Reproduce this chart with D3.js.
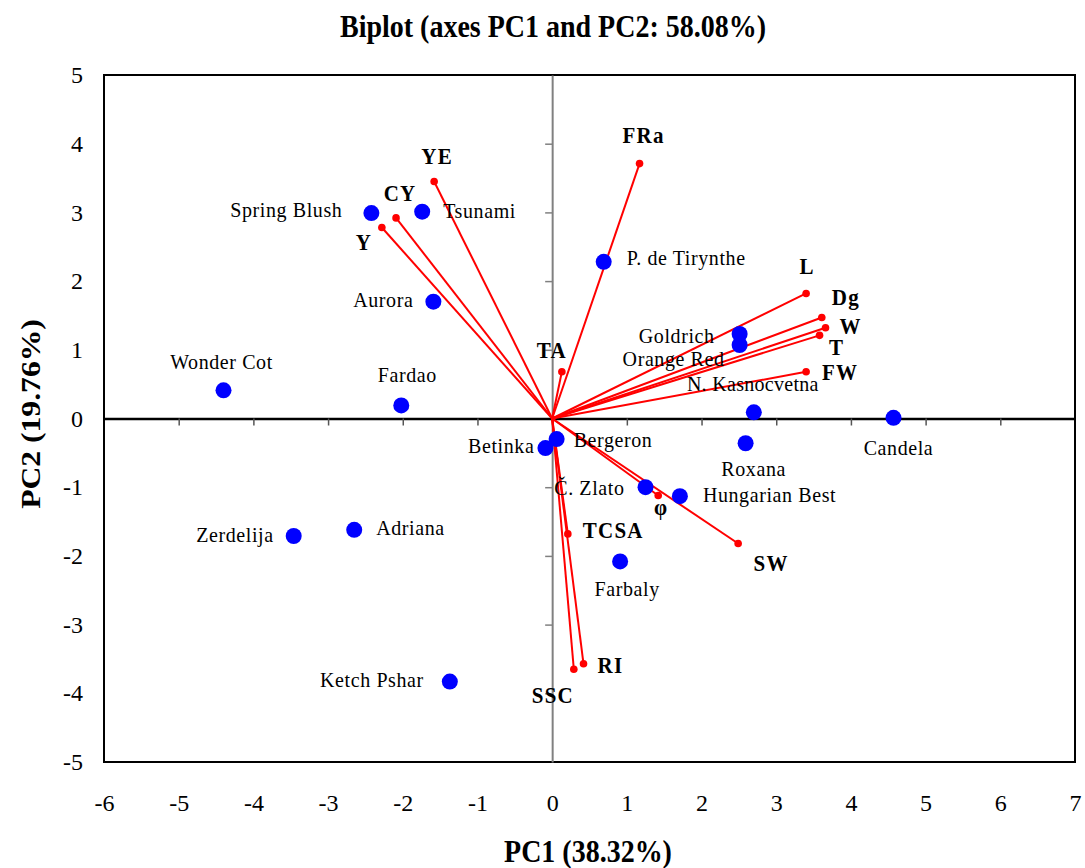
<!DOCTYPE html>
<html>
<head>
<meta charset="utf-8">
<script src="https://cdn.jsdelivr.net/npm/d3@7"></script>
<style>
  html, body { margin: 0; padding: 0; background: #fff; }
  svg { display: block; }
  svg text { font-family: 'Liberation Serif', 'Times New Roman', serif !important; fill: #000; }
</style>
</head>
<body>
<svg id="chart" width="1085" height="868"></svg>
<script>
// ---- Data ----
const obsNames = ["Wonder Cot","Fardao","Spring Blush","Tsunami","Aurora","P. de Tirynthe","Goldrich","Orange Red","N. Kasnocvetna","Candela","Roxana","Hungarian Best","Č. Zlato","Bergeron","Betinka","Farbaly","Adriana","Zerdelija","Ketch Pshar"];
const obsPC1 = [-4.40,-2.02,-2.42,-1.74,-1.59,0.69,2.51,2.51,2.70,4.57,2.59,1.71,1.25,0.06,-0.09,0.91,-2.65,-3.46,-1.37];
const obsPC2 = [0.41,0.19,2.99,3.01,1.70,2.28,1.23,1.07,0.09,0.01,-0.36,-1.13,-1.00,-0.30,-0.43,-2.08,-1.62,-1.71,-3.83];

const varNames = ["YE","CY","Y","TA","FRa","L","Dg","W","T","FW","φ","SW","TCSA","RI","SSC"];
const varPC1 = [-1.58,-2.09,-2.28,0.13,1.17,3.40,3.61,3.66,3.58,3.40,1.42,2.49,0.21,0.42,0.29];
const varPC2 = [3.45,2.92,2.78,0.68,3.71,1.82,1.47,1.32,1.21,0.68,-1.12,-1.82,-1.68,-3.57,-3.65];

const xTicks = [-6,-5,-4,-3,-2,-1,0,1,2,3,4,5,6,7];
const yTicks = [-5,-4,-3,-2,-1,0,1,2,3,4,5];

const titleText = "Biplot (axes PC1 and PC2: 58.08%)";
const xTitle = "PC1 (38.32%)";
const yTitle = "PC2 (19.76%)";

// ---- Label layout (offsets in px from the mark, anchor) ----
const obsLabelLayout = [
  [-2,-21,"middle"],[6,-23,"middle"],[-29,4,"end"],[21,6,"start"],[-20,5,"end"],
  [23,3,"start"],[-25,9,"end"],[-15,21,"end"],[-1,-21,"middle"],[5,37,"middle"],
  [8,33,"middle"],[23,6,"start"],[-21,8,"end"],[17,8,"start"],[-11,5,"end"],
  [7,35,"middle"],[22,5,"start"],[-20,6,"end"],[-26,5,"end"]
];
const varLabelLayout = [
  [3,-17,"middle"],[4,-17,"middle"],[-18,22,"middle"],[-10,-14,"middle"],[4,-21,"middle"],
  [1,-19,"middle"],[24,-13,"middle"],[25,6,"middle"],[17,20,"middle"],[34,8,"middle"],
  [3,20,"middle"],[33,27,"middle"],[15,4,"start"],[14,9,"start"],[-21,34,"middle"]
];

// ---- Chart ----
const svg = d3.select("#chart");
const L = 104, R = 1075, T = 75, B = 762;
const SY = 1.1; // vertical text stretch
const FONT = "'Liberation Serif', 'Times New Roman', serif";

const x = d3.scaleLinear().domain([-6, 7]).range([L, R]);
const y = d3.scaleLinear().domain([-5, 5]).range([B, T]);

function stretchedText(g, tx, ty, str, opts) {
  const t = g.append("text")
    .attr("transform", `translate(${tx},${ty}) scale(1,${opts.sy || SY})`)
    .attr("text-anchor", opts.anchor || "start")
    .attr("font-family", FONT)
    .style("font-size", opts.size + "px")
    .style("font-weight", opts.bold ? "bold" : "normal")
    .text(str);
  if (opts.ls) t.style("letter-spacing", opts.ls + "px");
  return t;
}

// Title
stretchedText(svg, 553, 37, titleText, {size: 28, bold: true, anchor: "middle", sy: 1.13});

// Frame
svg.append("rect").attr("x", L).attr("y", T).attr("width", R - L).attr("height", B - T)
  .attr("fill", "none").attr("stroke", "#000").attr("stroke-width", 2);

// Y zero axis (gray, ticks to the left)
const yAx = svg.append("g").attr("transform", `translate(${x(0)},0)`)
  .call(d3.axisLeft(y).tickValues(yTicks.filter(v => v > -5 && v < 5)).tickSize(7).tickFormat("").tickSizeOuter(0));
yAx.select(".domain").attr("stroke", "#808080").attr("stroke-width", 2);
yAx.selectAll(".tick line").attr("stroke", "#808080").attr("stroke-width", 1.5);

// X zero axis (black, ticks downward)
const xAx = svg.append("g").attr("transform", `translate(0,${y(0)})`)
  .call(d3.axisBottom(x).tickValues(xTicks.filter(v => v > -6 && v < 7)).tickSize(7).tickFormat("").tickSizeOuter(0));
xAx.select(".domain").attr("stroke", "#000").attr("stroke-width", 2.5);
xAx.selectAll(".tick line").attr("stroke", "#555").attr("stroke-width", 1.5);

// Tick labels along frame
const fmt = d => String(d);
const xLab = svg.append("g").attr("transform", `translate(0,${B})`)
  .call(d3.axisBottom(x).tickValues(xTicks).tickFormat(fmt).tickSize(0).tickPadding(32));
xLab.attr("font-family", FONT);
xLab.select(".domain").remove();
xLab.selectAll("text").attr("font-family", FONT).style("font-size", "24px").attr("fill", "#000");

const yLab = svg.append("g").attr("transform", `translate(${L},0)`)
  .call(d3.axisLeft(y).tickValues(yTicks).tickFormat(fmt).tickSize(0).tickPadding(21));
yLab.attr("font-family", FONT);
yLab.select(".domain").remove();
yLab.selectAll("text").attr("font-family", FONT).style("font-size", "24px").attr("fill", "#000");

// Axis titles
stretchedText(svg, 588, 862, xTitle, {size: 28, bold: true, anchor: "middle", sy: 1.13});
svg.append("text")
  .attr("transform", `translate(40,414) rotate(-90) scale(1.13,1)`)
  .attr("text-anchor", "middle")
  .attr("font-family", FONT)
  .style("font-size", "28px").style("font-weight", "bold")
  .text(yTitle);

// Variable vectors
const vars = varNames.map((n, i) => ({name: n, x: varPC1[i], y: varPC2[i], lay: varLabelLayout[i]}));
const obs = obsNames.map((n, i) => ({name: n, x: obsPC1[i], y: obsPC2[i], lay: obsLabelLayout[i]}));

svg.append("g").selectAll("line").data(vars).join("line")
  .attr("x1", x(0)).attr("y1", y(0))
  .attr("x2", d => x(d.x)).attr("y2", d => y(d.y))
  .attr("stroke", "#ff0000").attr("stroke-width", 2);

svg.append("g").selectAll("circle").data(vars).join("circle")
  .attr("cx", d => x(d.x)).attr("cy", d => y(d.y)).attr("r", 3.8)
  .attr("fill", "#ff0000");

// Observations
svg.append("g").selectAll("circle").data(obs).join("circle")
  .attr("cx", d => x(d.x)).attr("cy", d => y(d.y)).attr("r", 8)
  .attr("fill", "#0000ff");

// Labels
const vl = svg.append("g");
vars.forEach(d => {
  stretchedText(vl, x(d.x) + d.lay[0], y(d.y) + d.lay[1], d.name,
    {size: 21, bold: true, anchor: d.lay[2], ls: 1.2, sy: 1.05});
});
const ol = svg.append("g");
obs.forEach(d => {
  stretchedText(ol, x(d.x) + d.lay[0], y(d.y) + d.lay[1], d.name,
    {size: 20, anchor: d.lay[2], ls: d.name === "N. Kasnocvetna" ? 0.3 : 0.6});
});
</script>
</body>
</html>
